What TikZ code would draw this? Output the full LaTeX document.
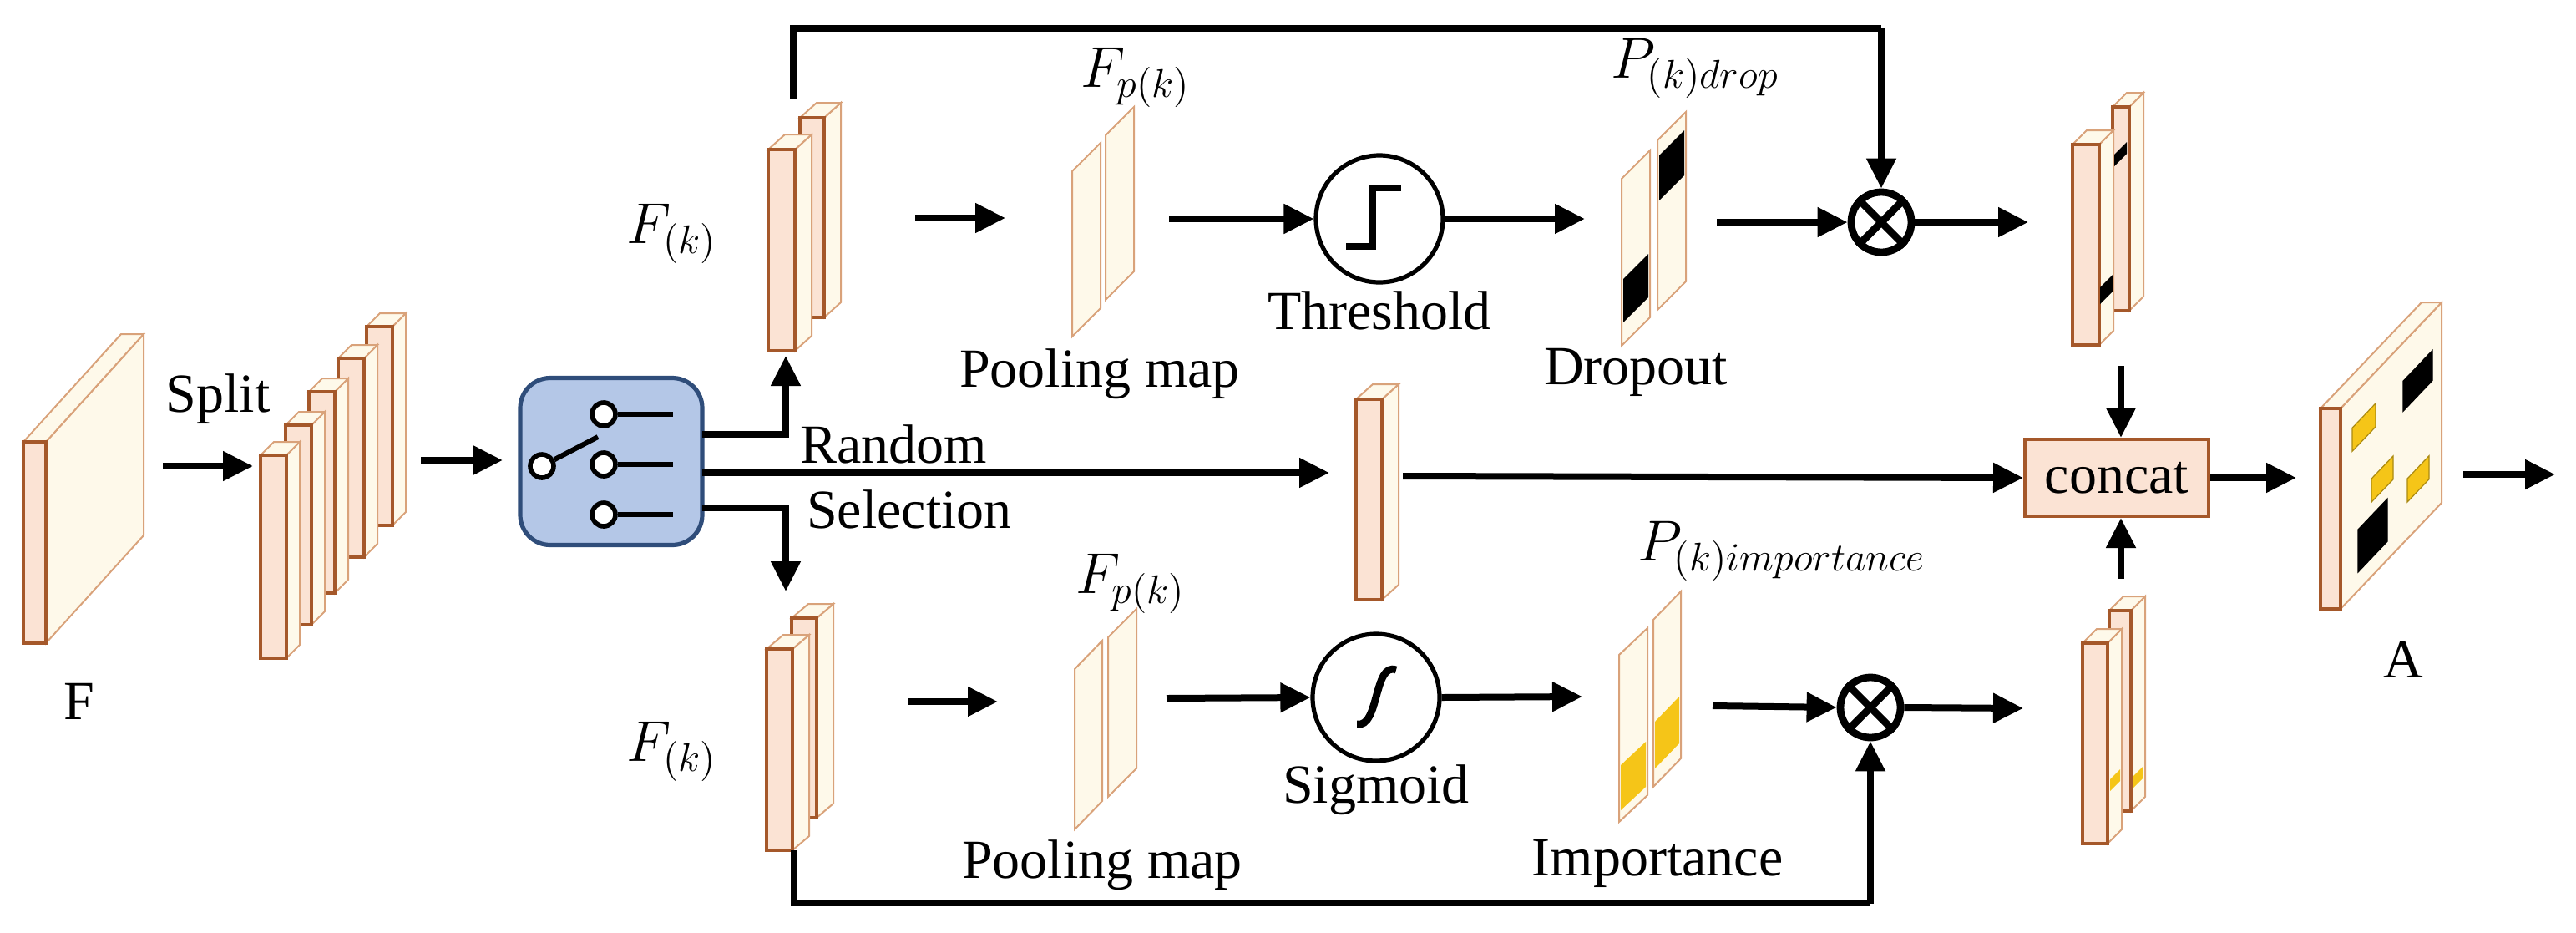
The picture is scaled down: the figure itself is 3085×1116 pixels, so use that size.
\documentclass[tikz,border=0pt]{standalone}
\usepackage{fontspec}
\setmainfont{Liberation Serif}
\usetikzlibrary{arrows.meta}
\definecolor{pinkf}{HTML}{FBE3D4}
\definecolor{creamf}{HTML}{FEF9EA}
\definecolor{brn}{HTML}{A5582A}
\definecolor{lbrn}{HTML}{D9A27A}
\definecolor{swfill}{HTML}{B4C7E7}
\definecolor{swdraw}{HTML}{2F4D7A}
\definecolor{ylw}{HTML}{F5C518}
\newcommand\slab[6]{%
  \filldraw[fill=creamf,draw=lbrn,line width=0.5pt] (#1+#3,#2) -- ++(#5,-#6) -- ++(0,#4) -- ++(-#5,#6) -- cycle;
  \filldraw[fill=creamf,draw=lbrn,line width=0.5pt] (#1,#2) -- ++(#5,-#6) -- ++(#3,0) -- ++(-#5,#6) -- cycle;
  \filldraw[fill=pinkf,draw=brn,line width=0.9pt] (#1,#2) rectangle ++(#3,#4);}
\newcommand\plate[5]{%
  \filldraw[fill=creamf,draw=lbrn,line width=0.5pt] (#1,#2) -- ++(0,#4) -- ++(#3,-#5) -- ++(0,-#4) -- cycle;}
\newcommand\ppatch[7]{% x y1 w s a b color
  \fill[#7] (#1+2,#2+#5) -- ++(#3-4,-#4+4) -- ++(0,#6-#5) -- ++(-#3+4,#4-4) -- cycle;}
\newcommand\apatch[5]{%
  \fill[#5,draw=#5!70!black,line width=0.3pt] (2803+#1,489-1.05*#1+#3) -- (2803+#2,489-1.05*#2+#3) -- (2803+#2,489-1.05*#2+#4) -- (2803+#1,489-1.05*#1+#4) -- cycle;}
\tikzset{
  arr/.style={line width=2pt,-{Triangle[length=9pt,width=8.5pt]}},
  ln/.style={line width=2pt},
  lbl/.style={font=\fontsize{16.5}{19}\selectfont,inner sep=0pt},
  op/.style={circle,draw,line width=1.3pt,minimum size=38pt,inner sep=0pt},
  ot/.style={circle,draw,line width=2.2pt,minimum size=18pt,inner sep=0pt},
  swc/.style={circle,draw=black,fill=white,line width=1.4pt,minimum size=7pt,inner sep=0pt},
}
\begin{document}
\begin{tikzpicture}[x=0.25pt,y=-0.25pt]
\useasboundingbox (0,0) rectangle (3085,1116);
% F
\slab{28}{529}{27}{241}{117}{129}
\node[lbl] (Flab) at (95,840) {F};
\node[lbl] (split) at (261,478) {Split};
\coordinate (s1a) at (195,558); \coordinate (s1b) at (303,558);
\draw[arr] (s1a) -- (s1b);
% split stack (back to front)
\slab{439}{391}{31}{238}{16}{16}
\slab{405}{429}{31}{238}{16}{16}
\slab{370}{469}{31}{241}{16}{16}
\slab{342}{509}{31}{239}{16}{16}
\slab{312}{545}{31}{243}{16}{16}
\coordinate (s2a) at (504,551); \coordinate (s2b) at (602,551);
\draw[arr] (s2a) -- (s2b);
% switch
\node[draw=swdraw,fill=swfill,line width=1.3pt,rounded corners=9pt,minimum width=54.5pt,minimum height=50pt] (sw) at (732,552.5) {};
\node[swc] (c0) at (649,558) {};
\node[swc] (c1) at (723,496) {};
\node[swc] (c2) at (723,556) {};
\node[swc] (c3) at (723,616) {};
\draw[line width=1.5pt] (c0) -- (716,523);
\foreach \c in {c1,c2,c3} \draw[line width=1.5pt] (\c.east) -- (\c.east -| 806,0);
% branches
\coordinate (b1) at (841,520); \coordinate (b2) at (841,566); \coordinate (b3) at (841,608);
\draw[arr] (b1) -| (941,426);
\draw[arr] (b3) -| (941,708);
\node[lbl] (rand) at (1070,532) {Random};
\node[lbl] (sel) at (1089,610) {Selection};
% middle slab
\slab{1624}{478}{31}{240}{20}{18}
\draw[arr] (b2) -- (1592,566);
\coordinate (mid) at (1680,570);
% top row
\node[lbl] (Fk1) at (805,280) {$F_{(k)}$};
\slab{958}{141}{29}{239}{20}{18}
\slab{920}{179}{32}{241}{20}{18}
\draw[arr] (1096,261) -- (1204,261);
\plate{1284}{205}{34}{198}{34}
\plate{1324}{162}{34}{197}{34}
\node[lbl] (Fp1) at (1360,93) {$F_{p(k)}$};
\node[lbl] (pm1) at (1317,448) {Pooling map};
\node[op] (thr) at (1652,262) {};
\draw[line width=2.2pt] (1612,295) -- (1644,295) -- (1644,225) -- (1678,225);
\node[lbl] (thrl) at (1652,372) {Threshold};
\draw[arr] (1400,262) -- (thr.west);
\draw[arr] (thr.east) -- (1898,262);
\plate{1942}{214}{34}{200}{34}
\plate{1985}{168}{34}{203}{34}
\ppatch{1942}{214}{34}{34}{120}{172}{black}
\ppatch{1985}{168}{34}{34}{18}{72}{black}
\node[lbl] (Pd) at (2030,82) {$P_{(k)drop}$};
\node[lbl] (dro) at (1959,446) {Dropout};
\node[ot] (ot1) at (2253,266) {};
\draw[line width=2.2pt] (ot1.45) -- (ot1.225) (ot1.135) -- (ot1.315);
\draw[arr] (2056,266) -- (ot1.west);
\draw[arr] (ot1.east) -- (2429,266);
\draw[ln] (950,118) -- (950,34) -- (2253,34);
\draw[arr] (2253,33) -- (ot1.north);
% top output stack
\slab{2530}{128}{20}{244}{17}{17}
\slab{2482}{173}{32}{240}{17}{17}
\fill[black] (2532,199) -- ++(0,-14) -- ++(15,-15) -- ++(0,14) -- cycle;
\fill[black] (2515,364) -- ++(0,-20) -- ++(15,-15) -- ++(0,20) -- cycle;
% concat
\node[draw=brn,fill=pinkf,line width=1pt,minimum width=55pt,minimum height=23pt,lbl] (cc) at (2535,572) {concat};
\draw[arr] (2540,438) -- (cc.north -| 2540,0);
\draw[arr] (mid) -- (cc.west);
\draw[arr] (2540,693) -- (cc.south -| 2540,0);
\draw[arr] (cc.east) -- (2750,572);
% A
\slab{2779}{489}{24}{240}{121}{127}
\apatch{75}{110}{46}{82}{black}
\apatch{14}{42}{38}{66}{ylw}
\apatch{37}{63}{123}{151}{ylw}
\apatch{80}{106}{168}{196}{ylw}
\apatch{21}{56}{167}{218}{black}
\draw[arr] (2950,568) -- (3060,568);
\node[lbl] (Alab) at (2878,790) {A};
% bottom row
\node[lbl] (Fk2) at (805,900) {$F_{(k)}$};
\slab{948}{740}{30}{239}{20}{17}
\slab{918}{777}{31}{241}{20}{17}
\draw[arr] (1087,840) -- (1195,840);
\plate{1287}{801}{33}{192}{34}
\plate{1327}{763}{34}{191}{34}
\node[lbl] (Fp2) at (1354,699) {$F_{p(k)}$};
\node[lbl] (pm2) at (1320,1036) {Pooling map};
\node[op] (sig) at (1648,835) {};
\draw[line width=2.2pt] (1672,802) .. controls (1645,792) and (1652,872) .. (1625,867);
\node[lbl] (sigl) at (1648,946) {Sigmoid};
\draw[arr] (1397,836) -- (sig.west);
\draw[arr] (sig.east) -- (1895,834);
\plate{1939}{784}{34}{200}{32}
\plate{1980}{742}{33}{200}{34}
\ppatch{1939}{784}{34}{32}{132}{186}{ylw}
\ppatch{1980}{742}{33}{34}{122}{178}{ylw}
\node[lbl] (Pi) at (2134,660) {$P_{(k)importance}$};
\node[lbl] (imp) at (1985,1034) {Importance};
\node[ot] (ot2) at (2240,847) {};
\draw[line width=2.2pt] (ot2.45) -- (ot2.225) (ot2.135) -- (ot2.315);
\draw[arr] (2051,845) -- (ot2.west);
\draw[arr] (ot2.east) -- (2423,848);
\draw[ln] (951,1018) -- (951,1081) -- (2240,1081);
\draw[arr] (2240,1082) -- (ot2.south);
% bottom output stack
\slab{2526}{731}{26}{240}{17}{17}
\slab{2494}{770}{30}{240}{17}{17}
\fill[ylw] (2527,947) -- ++(0,-14) -- ++(12,-12) -- ++(0,14) -- cycle;
\fill[ylw] (2526,925) -- ++(0,0) ;
\fill[ylw] (2554,944) -- ++(0,-14) -- ++(12,-12) -- ++(0,14) -- cycle;
\end{tikzpicture}
\end{document}
